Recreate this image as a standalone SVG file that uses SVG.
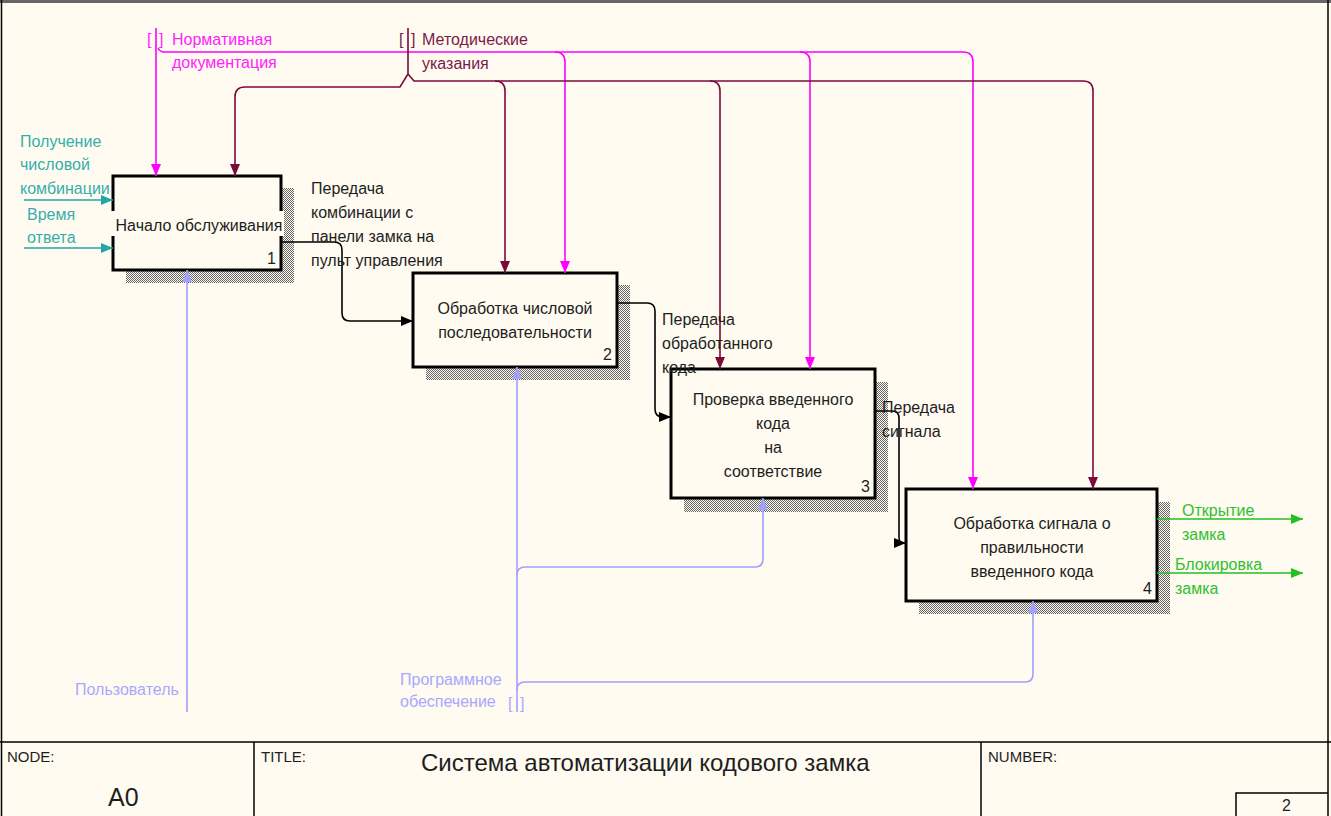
<svg xmlns="http://www.w3.org/2000/svg" width="1331" height="816" viewBox="0 0 1331 816">
<defs>
<style>
text{font-family:"Liberation Sans",Arial,sans-serif;font-size:16px;fill:#1e1e1e}
.box{fill:#FFFBF0;stroke:#000;stroke-width:3}
.sh{fill:url(#hatch)}
.num{text-anchor:end}
.c{text-anchor:middle}
.mag{stroke:#FF00FF}
.mar{stroke:#7A0A3C}
.teal{stroke:#22A6A6}
.blk{stroke:#000}
.lav{stroke:#A0A0FF}
.grn{stroke:#22C022}
.ln{fill:none;stroke-width:1.6}
.tmag{fill:#FF22FF}
.tmar{fill:#7A1A4A}
.tteal{fill:#36AEAE}
.tlav{fill:#A8A8FF}
.tgrn{fill:#30C030}
.frame{fill:none;stroke:#000;stroke-width:1.5}
.small{font-size:15px}
</style>
<pattern id="hatch" width="2" height="2" patternUnits="userSpaceOnUse">
<rect width="2" height="2" fill="#FFFBF0"/>
<rect width="1" height="1" fill="#666"/>
<rect x="1" y="1" width="1" height="1" fill="#666"/>
</pattern>
<marker id="aMag" markerUnits="userSpaceOnUse" viewBox="0 0 12 10" refX="12" refY="5" markerWidth="12" markerHeight="10" orient="auto"><path d="M0,0L12,5L0,10z" fill="#FF00FF"/></marker>
<marker id="aMar" markerUnits="userSpaceOnUse" viewBox="0 0 12 10" refX="12" refY="5" markerWidth="12" markerHeight="10" orient="auto"><path d="M0,0L12,5L0,10z" fill="#7A0A3C"/></marker>
<marker id="aTeal" markerUnits="userSpaceOnUse" viewBox="0 0 12 10" refX="12" refY="5" markerWidth="12" markerHeight="10" orient="auto"><path d="M0,0L12,5L0,10z" fill="#22A6A6"/></marker>
<marker id="aBlk" markerUnits="userSpaceOnUse" viewBox="0 0 12 10" refX="12" refY="5" markerWidth="12" markerHeight="10" orient="auto"><path d="M0,0L12,5L0,10z" fill="#000"/></marker>
<marker id="aLav" markerUnits="userSpaceOnUse" viewBox="0 0 12 10" refX="12" refY="5" markerWidth="12" markerHeight="10" orient="auto"><path d="M0,0L12,5L0,10z" fill="#A0A0FF"/></marker>
<marker id="aGrn" markerUnits="userSpaceOnUse" viewBox="0 0 12 10" refX="12" refY="5" markerWidth="12" markerHeight="10" orient="auto"><path d="M0,0L12,5L0,10z" fill="#22C022"/></marker>
</defs>
<rect width="1331" height="816" fill="#FFFBF0"/>
<g id="frame">
<line x1="0" y1="1.5" x2="1331" y2="1.5" stroke="#666" stroke-width="3"/>
<line x1="1.5" y1="0" x2="1.5" y2="816" stroke="#000" stroke-width="1.5"/>
<line x1="1328" y1="0" x2="1328" y2="816" stroke="#000" stroke-width="1.5"/>
<line x1="0" y1="742" x2="1331" y2="742" stroke="#000" stroke-width="1.5"/>
<line x1="254" y1="742" x2="254" y2="816" stroke="#000" stroke-width="1.5"/>
<line x1="981" y1="742" x2="981" y2="816" stroke="#000" stroke-width="1.5"/>
<path d="M1236,816V793H1328" class="frame"/>
<text x="7" y="762" class="small">NODE:</text>
<text x="108" y="806" style="font-size:25px">A0</text>
<text x="261" y="762" class="small">TITLE:</text>
<text x="421" y="771" style="font-size:24px">Система автоматизации кодового замка</text>
<text x="988" y="762" class="small">NUMBER:</text>
<text x="1282" y="811">2</text>
</g>
<g id="node1">
<rect x="126" y="188" width="168" height="95" class="sh"/>
<rect x="113" y="176" width="168" height="94" class="box"/>
<rect x="110" y="211" width="174" height="25" fill="#FFFBF0"/>
<text x="199" y="231" class="c">Начало обслуживания</text>
<text x="276" y="264" class="num">1</text>
</g>
<g id="node2">
<rect x="426" y="285" width="204" height="95" class="sh"/>
<rect x="413" y="273" width="204" height="94" class="box"/>
<text x="515" y="314" class="c">Обработка числовой</text>
<text x="515" y="338" class="c">последовательности</text>
<text x="612" y="360" class="num">2</text>
</g>
<g id="node3">
<rect x="684" y="382" width="204" height="130" class="sh"/>
<rect x="671" y="369" width="204" height="129" class="box"/>
<text x="773" y="405" class="c">Проверка введенного</text>
<text x="773" y="429" class="c">кода</text>
<text x="773" y="453" class="c">на</text>
<text x="773" y="477" class="c">соответствие</text>
<text x="870" y="492" class="num">3</text>
</g>
<g id="node4">
<rect x="919" y="502" width="251" height="112" class="sh"/>
<rect x="906" y="489" width="251" height="112" class="box"/>
<text x="1032" y="529" class="c">Обработка сигнала о</text>
<text x="1032" y="553" class="c">правильности</text>
<text x="1032" y="577" class="c">введенного кода</text>
<text x="1152" y="594" class="num">4</text>
</g>
<g id="connectors">
<g id="controls-normative">
<path d="M156,28V176" class="ln mag" marker-end="url(#aMag)"/>
<path d="M158,48Q160,52 164,52H963Q973,52 973,62V489" class="ln mag" marker-end="url(#aMag)"/>
<path d="M555,52Q565,52 565,62V273" class="ln mag" marker-end="url(#aMag)"/>
<path d="M800,52Q810,52 810,62V369" class="ln mag" marker-end="url(#aMag)"/>
<text x="147" y="45" class="tmag">[</text><text x="159" y="45" class="tmag">]</text>
<text x="172" y="45" class="tmag">Нормативная</text>
<text x="172" y="68" class="tmag">документация</text>
</g>
<g id="controls-method">
<path d="M408,28V74L400,87H245Q235,87 235,97V176" class="ln mar" marker-end="url(#aMar)"/>
<path d="M408,74L414,81H1083Q1093,81 1093,91V489" class="ln mar" marker-end="url(#aMar)"/>
<path d="M495,81Q505,81 505,91V273" class="ln mar" marker-end="url(#aMar)"/>
<path d="M710,81Q720,81 720,91V369" class="ln mar" marker-end="url(#aMar)"/>
<text x="399" y="45" class="tmar">[</text><text x="411" y="45" class="tmar">]</text>
<text x="422" y="45" class="tmar">Методические</text>
<text x="422" y="69" class="tmar">указания</text>
</g>
<g id="inputs">
<path d="M24,200H113" class="ln teal" marker-end="url(#aTeal)"/>
<path d="M24,248H113" class="ln teal" marker-end="url(#aTeal)"/>
<text x="20" y="147" class="tteal">Получение</text>
<text x="20" y="170" class="tteal">числовой</text>
<text x="20" y="194" class="tteal">комбинации</text>
<text x="27" y="220" class="tteal">Время</text>
<text x="27" y="243" class="tteal">ответа</text>
</g>
<g id="flows">
<path d="M281,242H334Q342,242 342,250V313Q342,321 350,321H413" class="ln blk" marker-end="url(#aBlk)"/>
<path d="M617,303H647Q655,303 655,311V409Q655,417 663,417H671" class="ln blk" marker-end="url(#aBlk)"/>
<path d="M875,411H892Q899,411 899,418V537Q899,543 902,543H906" class="ln blk" marker-end="url(#aBlk)"/>
<text x="311" y="194">Передача</text>
<text x="311" y="218">комбинации с</text>
<text x="311" y="242">панели замка на</text>
<text x="311" y="266">пульт управления</text>
<text x="662" y="325">Передача</text>
<text x="662" y="349">обработанного</text>
<text x="662" y="373">кода</text>
<text x="882" y="413">Передача</text>
<text x="882" y="437">сигнала</text>
</g>
<g id="outputs">
<path d="M1157,519H1303" class="ln grn" marker-end="url(#aGrn)"/>
<path d="M1157,573H1303" class="ln grn" marker-end="url(#aGrn)"/>
<text x="1182" y="516" class="tgrn">Открытие</text>
<text x="1182" y="540" class="tgrn">замка</text>
<text x="1175" y="570" class="tgrn">Блокировка</text>
<text x="1175" y="594" class="tgrn">замка</text>
</g>
<g id="mechanisms">
<path d="M187,712V270" class="ln lav" marker-end="url(#aLav)"/>
<path d="M517,712V367" class="ln lav" marker-end="url(#aLav)"/>
<path d="M517,575Q517,567 525,567H755Q763,567 763,559V498" class="ln lav" marker-end="url(#aLav)"/>
<path d="M517,690Q517,682 525,682H1025Q1033,682 1033,674V601" class="ln lav" marker-end="url(#aLav)"/>
<text x="75" y="695" class="tlav">Пользователь</text>
<text x="400" y="685" class="tlav">Программное</text>
<text x="400" y="707" class="tlav">обеспечение</text>
<text x="508" y="709" class="tlav">[</text><text x="520" y="709" class="tlav">]</text>
</g>
</g>
</svg>
